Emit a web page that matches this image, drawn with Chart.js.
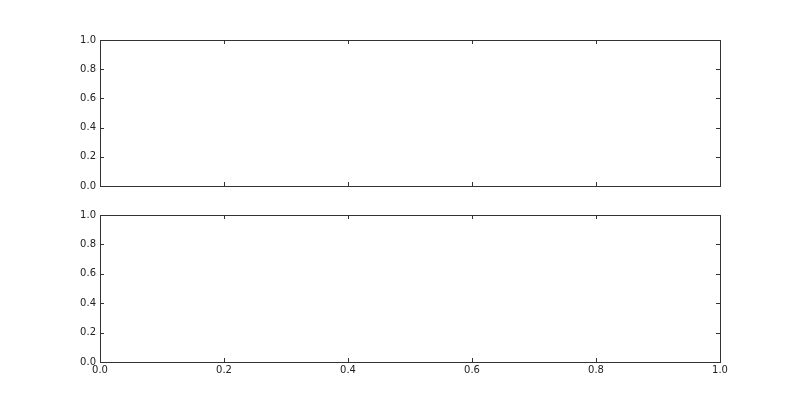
<!DOCTYPE html>
<html>
<head>
  <meta charset="UTF-8">
  <title>Two empty axes</title>
  <script src="https://cdn.jsdelivr.net/npm/chart.js"></script>
  <style>
    body { margin: 0; background: #fff; }
    #wrap { position: relative; width: 800px; height: 403px; }
    .box { position: absolute; left: 0; width: 800px; }
  </style>
</head>
<body>
  <div id="wrap">
    <div class="box" style="top:0;height:200px"><canvas id="topChart"></canvas></div>
    <div class="box" style="top:200px;height:203px"><canvas id="bottomChart"></canvas></div>
  </div>

  <script>
    const xTicks = [0, 0.2, 0.4, 0.6, 0.8, 1.0];
    const yTicks = [0, 0.2, 0.4, 0.6, 0.8, 1.0];
    const topPoints = [];
    const bottomPoints = [];

    Chart.defaults.font.family = "'DejaVu Sans', sans-serif";
    Chart.defaults.font.size = 10;
    Chart.defaults.color = '#222';

    // matplotlib-ish frame with inward ticks on all sides
    const frame = {
      id: 'frame',
      afterDraw(chart) {
        const { ctx, chartArea: a, scales } = chart;
        ctx.save();
        ctx.strokeStyle = '#333';
        ctx.lineWidth = 1;
        ctx.beginPath();
        xTicks.forEach(v => {
          const x = Math.round(scales.x.getPixelForValue(v)) + 0.5;
          ctx.moveTo(x, a.bottom); ctx.lineTo(x, a.bottom - 4);
          ctx.moveTo(x, a.top); ctx.lineTo(x, a.top + 4);
        });
        yTicks.forEach(v => {
          const y = Math.round(scales.y.getPixelForValue(v)) + 0.5;
          ctx.moveTo(a.left, y); ctx.lineTo(a.left + 4, y);
          ctx.moveTo(a.right, y); ctx.lineTo(a.right - 4, y);
        });
        ctx.stroke();
        ctx.strokeRect(Math.round(a.left) + 0.5, Math.round(a.top) + 0.5,
                       Math.round(a.right - a.left), Math.round(a.bottom - a.top));
        ctx.restore();
      }
    };

    function makeChart(id, points, padTop, xHeight, showX) {
      return new Chart(document.getElementById(id), {
        type: 'scatter',
        data: { datasets: [{ data: points, pointRadius: 0 }] },
        options: {
          animation: false,
          responsive: true,
          maintainAspectRatio: false,
          layout: { padding: { top: padTop, right: 80, left: 0, bottom: 0 } },
          plugins: { legend: { display: false }, tooltip: { enabled: false } },
          scales: {
            x: {
              type: 'linear', min: 0, max: 1,
              afterBuildTicks: s => { s.ticks = xTicks.map(v => ({ value: v })); },
              afterFit: s => { s.height = xHeight; },
              grid: { display: false, drawTicks: false, tickLength: 0 },
              border: { display: false },
              ticks: {
                display: showX, padding: 2, maxRotation: 0,
                callback: v => v.toFixed(1)
              }
            },
            y: {
              type: 'linear', min: 0, max: 1,
              afterBuildTicks: s => { s.ticks = yTicks.map(v => ({ value: v })); },
              afterFit: s => { s.width = 100; },
              grid: { display: false, drawTicks: false, tickLength: 0 },
              border: { display: false },
              ticks: { padding: 4, callback: v => v.toFixed(1) }
            }
          }
        },
        plugins: [frame]
      });
    }

    makeChart('topChart', topPoints, 40, 14, false);
    makeChart('bottomChart', bottomPoints, 15, 41, true);
  </script>
</body>
</html>
